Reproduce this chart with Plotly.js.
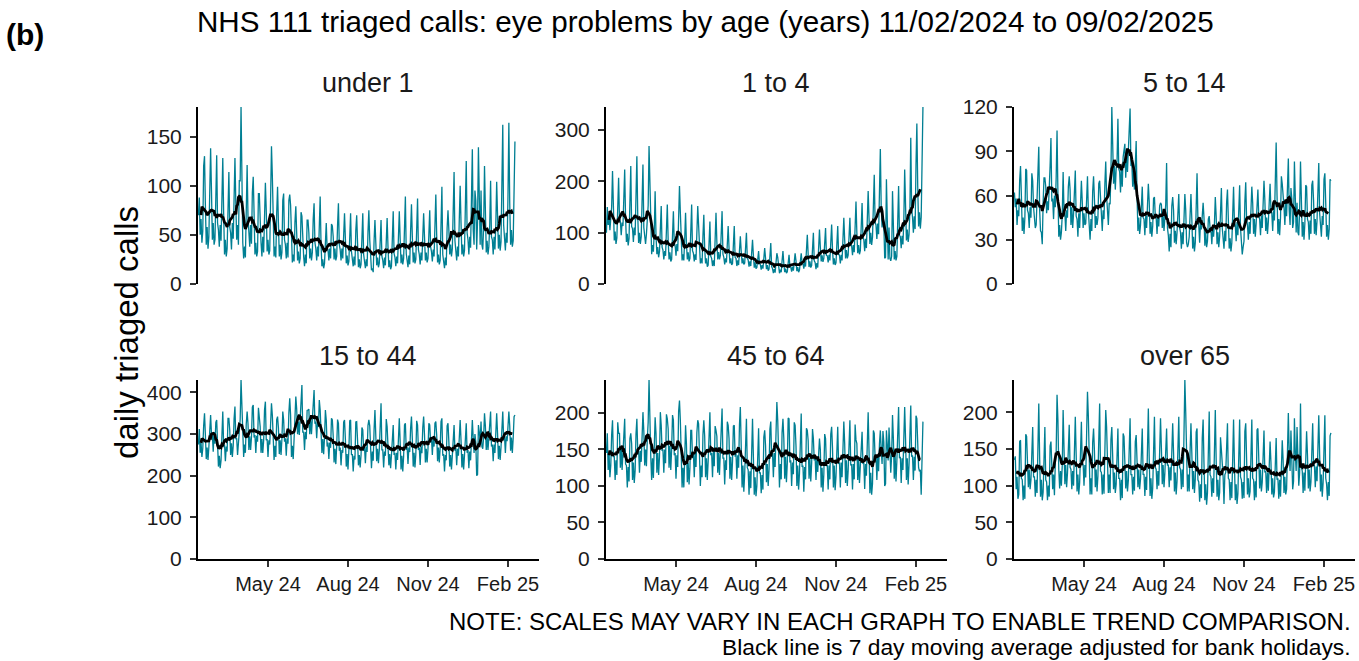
<!DOCTYPE html>
<html>
<head>
<meta charset="utf-8">
<script src="https://cdn.plot.ly/plotly-3.0.1.min.js"></script>
<style>
html,body{margin:0;padding:0;background:#ffffff;}
#chart{width:1359px;height:661px;}
</style>
</head>
<body>
<div id="chart"></div>
<script>
// ---------------- DATA ----------------
const startDate = '2024-02-11';   // first day (Sunday), last day 2025-02-09
const mainTitle = 'NHS 111 triaged calls: eye problems by age (years) 11/02/2024 to 09/02/2025';
const panelTitles = ['under 1', '1 to 4', '5 to 14', '15 to 44', '45 to 64', 'over 65'];
const xTickDates = ['2024-05-01', '2024-08-01', '2024-11-01', '2025-02-01'];
const xTickLabels = ['May 24', 'Aug 24', 'Nov 24', 'Feb 25'];
const yTickSteps = [50, 100, 30, 100, 50, 50];
const yAxisTitle = 'daily triaged calls';
const noteLine1 = 'NOTE: SCALES MAY VARY IN EACH GRAPH TO ENABLE TREND COMPARISON.';
const noteLine2 = 'Black line is 7 day moving average adjusted for bank holidays.';

// daily triaged calls, one row per week (Sun..Sat), final Sunday on its own
const under1 = [
70,88,50,66,42,54,120,
130,80,40,58,36,48,98,
138,95,45,62,40,45,100,
131,62,55,38,60,44,100,
128,72,30,45,28,36,95,
114,58,52,35,62,46,95,
128,82,45,60,40,105,105,
180,90,42,26,38,27,70,
121,68,55,38,60,41,93,
109,72,30,42,28,33,92,
92,50,42,28,48,32,86,
103,75,33,45,30,34,100,
140,110,40,28,38,27,72,
99,62,28,40,25,32,85,
92,45,40,26,42,27,85,
91,80,34,22,30,23,63,
79,52,24,33,21,26,73,
69,35,28,18,30,21,65,
65,52,26,36,24,32,66,
82,42,36,24,38,28,65,
89,40,18,25,16,21,50,
62,36,35,24,36,26,61,
59,48,25,36,24,28,60,
82,40,35,24,36,26,58,
72,46,21,29,19,23,56,
72,33,27,18,28,19,55,
70,42,17,25,16,20,55,
72,30,24,16,25,18,53,
75,45,18,14,16,12,44,
65,42,19,27,17,21,47,
65,28,24,16,27,19,49,
67,38,17,24,15,18,52,
74,31,27,18,28,21,53,
74,46,21,30,20,26,56,
89,31,26,17,29,20,54,
81,48,22,32,21,25,58,
87,35,30,20,32,24,59,
72,48,24,32,22,26,56,
75,38,33,23,35,28,62,
91,50,22,30,20,24,64,
99,30,25,16,27,19,57,
75,55,30,40,28,36,72,
114,44,36,24,38,28,66,
100,62,30,40,28,34,70,
125,52,45,30,48,37,83,
137,55,40,95,85,35,64,
139,55,40,95,40,35,58,
120,68,32,44,30,38,60,
105,48,45,30,48,35,60,
104,70,36,50,34,43,90,
162,60,50,34,52,42,90,
164,82,40,55,38,44,95,
145];

const age1to4 = [
100,150,115,132,105,123,150,
220,130,85,102,78,90,142,
207,128,122,95,120,113,174,
223,130,82,98,75,89,157,
230,112,108,82,110,95,159,
249,135,80,100,78,92,169,
233,110,98,78,97,120,153,
269,180,78,58,76,63,102,
181,95,58,72,52,63,109,
152,72,66,48,64,55,103,
155,85,48,62,44,48,97,
142,80,75,55,78,64,115,
191,140,62,46,58,46,87,
139,80,48,62,44,50,102,
155,65,60,44,58,47,96,
152,115,55,40,50,40,94,
135,70,40,50,34,37,82,
122,54,50,35,46,35,78,
139,82,48,62,48,55,91,
142,58,52,38,50,42,87,
113,70,40,50,37,40,77,
113,52,50,35,46,37,73,
93,64,40,50,38,41,66,
100,50,47,34,44,35,61,
86,56,32,42,30,32,58,
64,40,38,28,37,30,57,
70,50,29,37,26,29,60,
80,34,30,21,29,22,50,
60,52,30,21,28,23,45,
64,40,23,30,21,24,50,
57,34,33,24,34,26,51,
60,45,25,33,23,27,53,
60,42,40,30,42,34,60,
96,58,33,44,32,36,72,
100,45,42,29,41,32,68,
106,72,44,56,43,50,77,
109,56,55,42,57,46,83,
116,68,38,50,37,41,77,
113,58,56,40,57,46,85,
129,86,50,66,50,56,95,
129,78,74,56,76,62,113,
161,100,60,76,58,65,117,
158,92,86,64,88,70,135,
181,128,78,100,76,91,151,
213,120,115,88,118,97,173,
263,150,110,130,120,50,52,
204,70,48,110,50,45,54,
181,90,48,64,46,54,133,
191,95,92,70,94,77,123,
223,138,85,106,82,96,145,
285,148,130,100,132,107,232,
313,190,112,140,108,130,267,
345];

const age5to14 = [
62,52,58,40,50,46,70,
80,60,36,45,34,45,78,
77,50,48,38,52,45,75,
70,52,44,38,40,55,72,
93,50,36,35,27,55,72,
72,66,48,56,50,62,80,
99,56,58,44,60,52,72,
104,62,32,40,30,35,47,
76,50,48,36,50,45,66,
73,64,40,52,38,48,63,
77,46,44,32,48,38,65,
70,56,38,48,40,41,64,
73,50,40,30,44,36,63,
73,58,38,46,40,45,68,
70,55,48,36,50,44,68,
83,60,52,40,55,54,76,
120,95,68,80,64,78,83,
112,78,76,62,80,66,86,
92,95,72,88,76,90,103,
119,80,82,66,78,64,85,
97,60,36,45,34,40,59,
66,45,44,33,46,38,57,
68,56,34,42,32,39,58,
59,46,45,34,46,39,53,
55,54,38,47,36,45,54,
82,38,33,22,34,25,53,
59,50,28,36,27,35,52,
61,38,35,24,35,27,53,
61,50,28,25,27,32,54,
61,44,24,32,22,28,48,
75,44,40,28,42,37,49,
55,45,26,35,25,29,44,
46,38,37,27,38,32,41,
59,46,27,35,25,32,56,
65,38,33,24,36,29,55,
64,44,24,31,22,28,53,
66,42,40,29,42,33,56,
67,38,24,20,25,29,56,
69,44,40,30,42,34,56,
66,55,34,44,32,41,57,
64,46,44,33,46,38,58,
70,57,36,45,34,42,59,
68,50,48,36,50,43,62,
96,60,34,44,33,45,73,
68,54,52,40,55,46,67,
85,50,40,65,58,38,42,
83,45,35,55,35,33,50,
83,55,32,42,30,41,67,
66,44,42,30,43,34,67,
70,57,34,44,33,43,66,
82,48,42,32,46,40,71,
75,55,32,40,30,37,71,
70];

const age15to44 = [
275,312,255,280,245,266,320,
350,298,240,268,238,269,325,
346,300,300,258,305,277,328,
334,285,222,248,218,237,325,
354,272,275,235,270,258,338,
338,310,250,278,245,272,337,
366,288,290,250,279,320,335,
430,360,280,245,275,255,325,
354,325,262,295,262,293,365,
370,292,298,255,296,282,363,
342,318,255,288,255,284,358,
378,285,288,245,285,275,358,
374,345,270,238,272,245,335,
342,315,252,285,250,288,354,
334,282,290,248,290,277,351,
386,345,245,272,240,288,345,
390,360,300,330,298,337,379,
418,305,305,262,305,288,357,
358,360,300,338,300,332,378,
406,325,330,290,330,317,382,
358,318,255,288,252,292,358,
334,270,280,240,280,267,338,
334,295,232,265,228,271,335,
326,260,268,225,262,255,329,
334,288,222,252,215,261,332,
334,250,252,210,248,239,329,
330,285,225,250,220,250,316,
310,260,270,230,270,257,321,
334,320,255,218,258,236,311,
358,295,235,265,230,262,336,
374,262,262,220,258,248,336,
318,280,225,252,218,250,312,
322,250,255,215,255,238,320,
338,282,215,248,210,247,322,
326,262,270,228,268,257,314,
342,288,222,255,220,252,332,
322,262,268,226,270,254,316,
342,298,232,265,232,265,326,
322,280,292,250,290,270,326,
330,298,235,268,232,267,330,
338,248,252,210,250,237,320,
326,282,222,250,215,249,311,
322,260,268,225,265,248,316,
334,285,220,252,215,250,313,
326,255,262,218,258,237,320,
334,290,255,300,280,200,203,
322,300,285,330,270,265,293,
350,320,262,295,262,291,341,
354,270,275,235,275,255,331,
350,302,240,272,238,269,324,
354,290,295,255,295,283,342,
354,320,260,292,255,291,342,
346];

const age45to64 = [
145,172,122,145,112,128,170,
190,140,140,108,135,115,187,
172,172,125,152,122,145,176,
192,130,128,98,126,106,165,
172,158,108,132,104,121,171,
192,148,150,118,148,133,175,
201,175,128,150,127,165,187,
245,180,140,108,138,111,171,
194,172,118,145,115,140,201,
183,148,150,118,150,131,198,
192,178,125,155,122,151,197,
190,142,145,110,142,126,202,
217,190,130,98,125,98,136,
183,158,105,132,102,124,176,
176,138,145,112,145,126,173,
190,185,130,100,128,112,170,
190,168,112,138,108,134,186,
201,142,145,112,148,127,182,
176,168,118,145,115,137,177,
206,138,138,102,135,122,188,
183,165,110,140,108,134,182,
183,140,145,110,142,125,184,
208,155,98,128,92,117,182,
192,125,122,88,120,97,159,
192,140,88,112,86,100,157,
179,118,118,90,115,95,167,
176,155,105,130,100,122,178,
188,140,145,112,145,126,180,
215,190,128,98,130,109,173,
192,165,110,140,105,131,193,
192,132,135,100,132,116,187,
183,155,100,128,95,117,167,
199,126,128,92,126,109,179,
176,162,110,138,106,131,178,
165,135,140,108,140,119,159,
165,150,98,125,92,116,171,
165,128,128,95,128,109,171,
181,152,98,128,94,113,172,
181,130,132,98,132,112,174,
188,158,104,135,100,121,181,
190,128,130,95,130,109,184,
163,158,108,138,104,125,163,
174,130,132,96,130,114,169,
201,148,90,118,88,103,176,
172,138,142,108,142,120,158,
176,150,130,175,160,100,103,
176,150,135,180,128,118,142,
197,165,110,142,106,134,189,
208,138,140,104,138,122,193,
208,165,108,138,102,129,193,
210,140,142,108,140,121,196,
192,140,125,120,122,88,165,
188];

const over65 = [
135,140,95,112,82,88,160,
162,110,108,80,100,82,170,
167,142,98,122,95,108,150,
180,112,112,85,108,90,153,
212,138,85,108,80,91,161,
180,108,105,80,100,85,154,
160,135,95,115,87,130,146,
224,190,122,96,120,100,128,
203,152,102,128,98,117,166,
183,125,122,95,120,100,165,
194,142,92,115,88,104,161,
187,128,130,100,128,111,182,
228,195,112,88,110,88,159,
178,148,98,122,92,113,159,
212,120,118,88,115,89,168,
203,180,118,90,115,90,163,
180,140,95,118,90,102,164,
178,110,110,80,108,83,171,
167,140,96,120,92,107,153,
192,115,115,88,112,93,160,
169,142,98,122,95,109,154,
178,115,116,86,112,94,160,
205,138,86,110,82,96,172,
194,125,122,95,120,100,161,
192,152,102,128,98,117,170,
178,128,128,98,125,107,167,
185,145,92,118,88,106,169,
194,125,122,95,122,98,168,
244,200,118,92,115,92,147,
185,145,95,120,90,109,173,
178,108,105,78,102,83,165,
190,130,80,102,74,90,167,
201,115,112,85,110,90,162,
203,135,85,108,80,91,166,
149,130,112,75,115,118,148,
185,110,108,80,105,83,176,
190,130,80,102,75,89,174,
190,112,108,82,105,83,174,
185,138,88,110,84,92,171,
190,110,108,80,106,84,176,
178,142,96,122,92,105,161,
175,118,120,90,118,93,151,
160,132,88,110,84,91,154,
165,108,110,82,108,85,147,
162,135,90,112,88,95,151,
199,145,120,175,140,95,106,
192,145,120,180,118,100,118,
212,125,120,90,118,93,152,
174,142,96,122,92,105,151,
185,128,128,98,126,106,160,
196,142,92,115,85,104,162,
196,110,102,80,105,86,168,
172];

const panelSeries = [under1, age1to4, age5to14, age15to44, age45to64, over65];

// ---------------- BUILD ----------------
const W = 1359, H = 661;
const TEAL = '#007f93';
const FONT = 'Liberation Sans, Arial, sans-serif';
const TXT = '#1a1a1a';

function dayList(n) {
  const [y, m, d] = startDate.split('-').map(Number);
  const base = Date.UTC(y, m - 1, d);
  const out = [];
  for (let i = 0; i < n; i++) out.push(new Date(base + i * 86400000).toISOString().slice(0, 10));
  return out;
}
function movingAverage(vals) {       // centred 7-day mean
  return vals.map((v, i) => {
    if (i < 3 || i > vals.length - 4) return null;
    let s = 0; for (let j = i - 3; j <= i + 3; j++) s += vals[j];
    return s / 7;
  });
}

const fx = px => px / W;
const fy = py => 1 - py / H;
const colPx = [[198, 539], [606, 947], [1014, 1355]];
const rowPx = [[107, 284], [380, 559]];
const xRange = ['2024-02-10 12:00', '2025-03-08 16:00'];

const traces = [];
const layout = {
  width: W, height: H,
  margin: {l: 0, r: 0, t: 0, b: 0},
  paper_bgcolor: '#ffffff', plot_bgcolor: '#ffffff',
  showlegend: false,
  font: {family: FONT, color: TXT},
  annotations: []
};

panelSeries.forEach((vals, p) => {
  const idx = p === 0 ? '' : String(p + 1);
  const dates = dayList(vals.length);
  const ma = movingAverage(vals);
  const col = p % 3, row = Math.floor(p / 3);
  traces.push({
    type: 'scatter', mode: 'lines', x: dates, y: vals,
    xaxis: 'x' + idx, yaxis: 'y' + idx,
    line: {color: TEAL, width: 1.3}, hoverinfo: 'skip'
  });
  traces.push({
    type: 'scatter', mode: 'lines', x: dates, y: ma,
    xaxis: 'x' + idx, yaxis: 'y' + idx,
    line: {color: '#000000', width: 2.8}, hoverinfo: 'skip'
  });
  const bottom = row === 1;
  layout['xaxis' + idx] = {
    domain: [fx(colPx[col][0]), fx(colPx[col][1])],
    anchor: 'y' + idx,
    type: 'date', range: xRange,
    showgrid: false, zeroline: false,
    showline: bottom, linecolor: '#000000', linewidth: 2,
    ticks: bottom ? 'outside' : '', ticklen: 6, tickwidth: 2, tickcolor: '#333333',
    tickmode: 'array', tickvals: xTickDates, ticktext: xTickLabels,
    showticklabels: bottom,
    tickfont: {family: FONT, size: 20, color: TXT},
    fixedrange: true
  };
  const ymax = Math.max(...vals);
  layout['yaxis' + idx] = {
    domain: [fy(rowPx[row][1]), fy(rowPx[row][0])],
    anchor: 'x' + idx,
    range: [0, ymax],
    showgrid: false, zeroline: false,
    showline: true, linecolor: '#000000', linewidth: 2,
    ticks: 'outside', ticklen: 6, tickwidth: 2, tickcolor: '#333333',
    tick0: 0, dtick: yTickSteps[p],
    tickfont: {family: FONT, size: 21, color: TXT},
    ticklabelstandoff: 4,
    fixedrange: true
  };
  layout.annotations.push({
    xref: 'paper', yref: 'paper',
    x: fx((colPx[col][0] + colPx[col][1]) / 2),
    y: fy(row === 0 ? 83 : 356),
    xanchor: 'center', yanchor: 'middle',
    text: panelTitles[p], showarrow: false,
    font: {family: FONT, size: 27, color: TXT}
  });
});

layout.annotations.push(
  {xref: 'paper', yref: 'paper', x: fx(705), y: fy(22), xanchor: 'center', yanchor: 'middle',
   text: mainTitle, showarrow: false, font: {family: FONT, size: 29.6, color: '#000000'}},
  {xref: 'paper', yref: 'paper', x: fx(4), y: fy(35), xanchor: 'left', yanchor: 'middle',
   text: '<b>(b)</b>', showarrow: false, font: {family: FONT, size: 30, color: '#000000'}},
  {xref: 'paper', yref: 'paper', x: fx(126), y: fy(333), xanchor: 'center', yanchor: 'middle',
   text: yAxisTitle, textangle: -90, showarrow: false, font: {family: FONT, size: 33, color: '#000000'}},
  {xref: 'paper', yref: 'paper', x: fx(1353), y: fy(621), xanchor: 'right', yanchor: 'middle',
   text: noteLine1, showarrow: false, font: {family: FONT, size: 24, color: '#000000'}},
  {xref: 'paper', yref: 'paper', x: fx(1353), y: fy(647), xanchor: 'right', yanchor: 'middle',
   text: noteLine2, showarrow: false, font: {family: FONT, size: 22.8, color: '#000000'}}
);

Plotly.newPlot('chart', traces, layout, {staticPlot: true, displayModeBar: false});
</script>
</body>
</html>
